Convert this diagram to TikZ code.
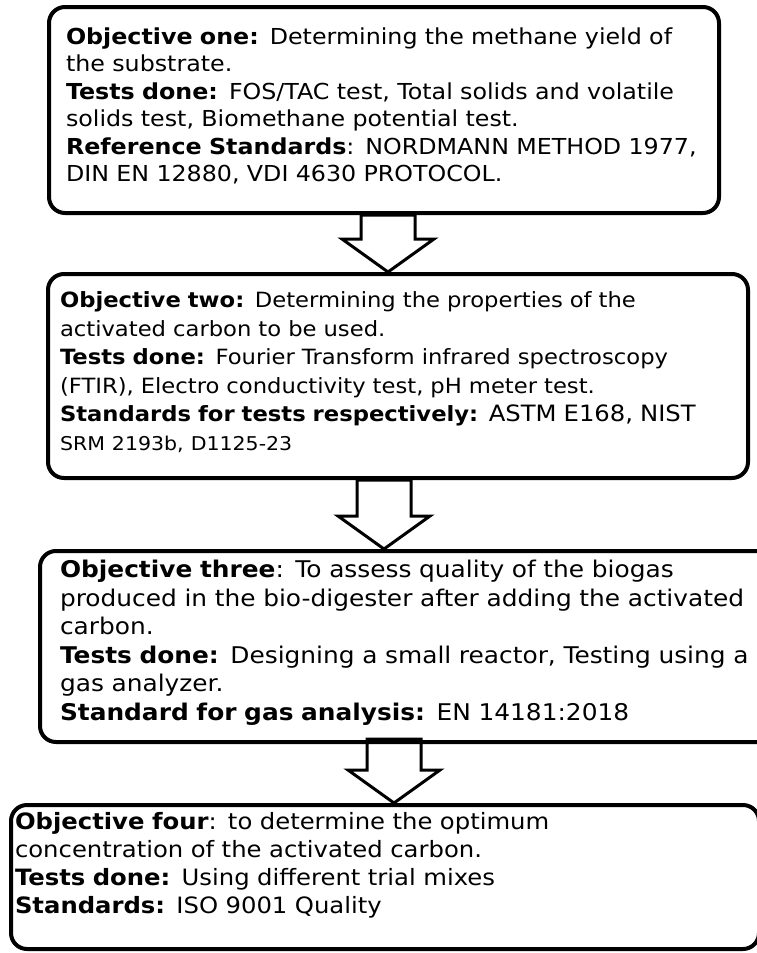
\documentclass[tikz,border=0pt]{standalone}
\usepackage{fontspec}
\setmainfont{DejaVu Sans}[FakeStretch=1.08]
\usetikzlibrary{calc}

\newcommand{\objarrow}[4][0pt]{%
  \draw[objarrow] let \p1=(#2.south), \p2=([xshift=#4]#3.north) in
    (\x2-27pt,\y1+#1) -- (\x2-27pt,\y2+33pt) -- (\x2-46pt,\y2+33pt) -- (\x2,\y2)
    -- (\x2+46pt,\y2+33pt) -- (\x2+27pt,\y2+33pt) -- (\x2+27pt,\y1+#1) -- cycle;}

\begin{document}
\begin{tikzpicture}[x=1pt,y=-1pt,
    objbox/.style={draw,line width=4pt,rounded corners=16pt,anchor=north west,
      align=left,inner ysep=0pt,font=\fontsize{22}{27.5}\selectfont},
    objlift/.style={execute at end node={\endgraf\kern#1}},
    objarrow/.style={line width=3pt,line join=miter}]
  \useasboundingbox (0,0) rectangle (757,953);
  % objective boxes
  \node[objbox,objlift=8pt,inner xsep=17pt,text width=636pt,minimum height=206pt] (obj1) at (47,5)
    {\textbf{Objective one:} Determining the methane yield of\\
     the substrate.\\
     \textbf{Tests done:} FOS/TAC test, Total solids and volatile\\
     solids test, Biomethane potential test.\\
     \textbf{Reference Standards}: NORDMANN METHOD 1977,\\
     DIN EN 12880, VDI 4630 PROTOCOL.};
  \node[objbox,objlift=8pt,inner xsep=12pt,text width=676pt,minimum height=204pt,
        font=\fontsize{21}{28.5}\selectfont] (obj2) at (46,272)
    {\textbf{Objective two:} Determining the properties of the\\
     activated carbon to be used.\\
     \textbf{Tests done:} Fourier Transform infrared spectroscopy\\
     (FTIR), Electro conductivity test, pH meter test.\\
     \textbf{Standards for tests respectively:} {\fontsize{22.5}{28.5}\selectfont ASTM E168, NIST}\\
     {\fontsize{19}{28.5}\selectfont SRM 2193b, D1125-23}};
  \node[objbox,objlift=8pt,inner xsep=20pt,text width=712pt,minimum height=191pt,
        font=\fontsize{23}{28.5}\selectfont] (obj3) at (38,549)
    {\textbf{Objective three}: To assess quality of the biogas\\
     produced in the bio-digester after adding the activated\\
     carbon.\\
     \textbf{Tests done:} Designing a small reactor, Testing using a\\
     gas analyzer.\\
     \textbf{Standard for gas analysis:} EN 14181:2018};
  \node[objbox,objlift=23pt,inner xsep=4pt,text width=740pt,minimum height=144pt,
        font=\fontsize{22.5}{28}\selectfont] (obj4) at (9,803)
    {\textbf{Objective four}: to determine the optimum\\
     concentration of the activated carbon.\\
     \textbf{Tests done:} Using different trial mixes\\
     \textbf{Standards:} ISO 9001 Quality};
  % arrows between objectives
  \objarrow{obj1}{obj2}{-10pt}
  \objarrow{obj2}{obj3}{-32pt}
  \objarrow[5pt]{obj3}{obj4}{9pt}
\end{tikzpicture}
\end{document}
